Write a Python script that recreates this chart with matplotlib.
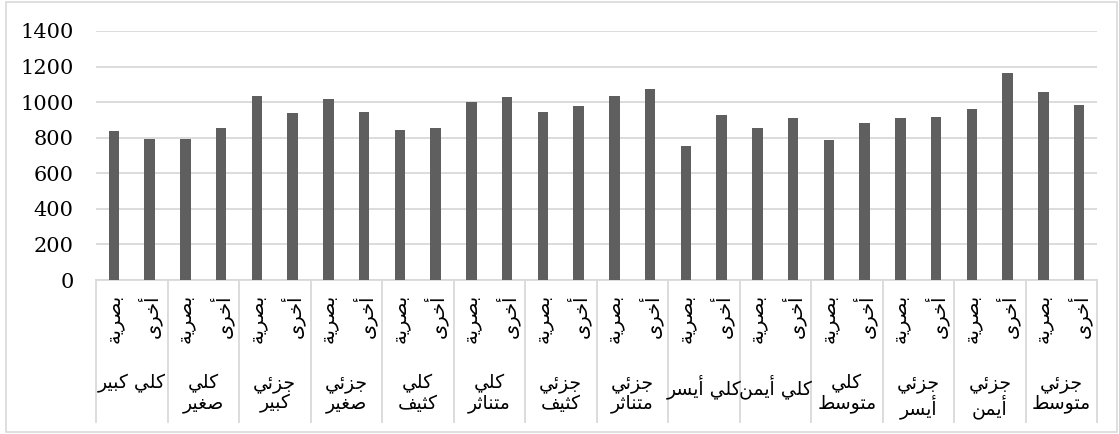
import matplotlib
matplotlib.use("Agg")
import matplotlib.pyplot as plt
from matplotlib.patches import Rectangle
import numpy as np

# ---------------- data ----------------
groups = ["كلي كبير", "كلي\nصغير", "جزئي\nكبير", "جزئي\nصغير", "كلي\nكثيف",
          "كلي\nمتناثر", "جزئي\nكثيف", "جزئي\nمتناثر", "كلي أيسر", "كلي أيمن",
          "كلي\nمتوسط", "جزئي\nأيسر", "جزئي\nأيمن", "جزئي\nمتوسط"]
subcats = ["بصرية", "أخرى"]
visual = [836, 793, 1036, 1017, 842, 998, 942, 1036, 752, 857, 789, 912, 959, 1058]
other = [795, 853, 940, 945, 853, 1028, 977, 1073, 927, 910, 880, 914, 1164, 985]
yticks = [0, 200, 400, 600, 800, 1000, 1200, 1400]

# ------------- minimal Arabic shaping (presentation forms + RTL) -------------
FORMS = {
    'ا': ('\uFE8D', '\uFE8E', None, None),
    'أ': ('\uFE83', '\uFE84', None, None),
    'ب': ('\uFE8F', '\uFE90', '\uFE91', '\uFE92'),
    'ة': ('\uFE93', '\uFE94', None, None),
    'ت': ('\uFE95', '\uFE96', '\uFE97', '\uFE98'),
    'ث': ('\uFE99', '\uFE9A', '\uFE9B', '\uFE9C'),
    'ج': ('\uFE9D', '\uFE9E', '\uFE9F', '\uFEA0'),
    'خ': ('\uFEA5', '\uFEA6', '\uFEA7', '\uFEA8'),
    'ر': ('\uFEAD', '\uFEAE', None, None),
    'ز': ('\uFEAF', '\uFEB0', None, None),
    'س': ('\uFEB1', '\uFEB2', '\uFEB3', '\uFEB4'),
    'ص': ('\uFEB9', '\uFEBA', '\uFEBB', '\uFEBC'),
    'ط': ('\uFEC1', '\uFEC2', '\uFEC3', '\uFEC4'),
    'غ': ('\uFECD', '\uFECE', '\uFECF', '\uFED0'),
    'ف': ('\uFED1', '\uFED2', '\uFED3', '\uFED4'),
    'ك': ('\uFED9', '\uFEDA', '\uFEDB', '\uFEDC'),
    'ل': ('\uFEDD', '\uFEDE', '\uFEDF', '\uFEE0'),
    'م': ('\uFEE1', '\uFEE2', '\uFEE3', '\uFEE4'),
    'ن': ('\uFEE5', '\uFEE6', '\uFEE7', '\uFEE8'),
    'و': ('\uFEED', '\uFEEE', None, None),
    'ى': ('\uFEEF', '\uFEF0', '\uFBE8', '\uFBE9'),
    'ي': ('\uFEF1', '\uFEF2', '\uFEF3', '\uFEF4'),
    'ئ': ('\uFE89', '\uFE8A', '\uFE8B', '\uFE8C'),
}


def shape_line(s):
    out = []
    n = len(s)
    for i, c in enumerate(s):
        if c not in FORMS:
            out.append(c)
            continue
        prev = s[i - 1] if i > 0 else None
        nxt = s[i + 1] if i + 1 < n else None
        jp = prev in FORMS and FORMS[prev][2] is not None
        jn = FORMS[c][2] is not None and nxt in FORMS
        iso, fin, ini, med = FORMS[c]
        if jp and jn:
            out.append(med)
        elif jp:
            out.append(fin)
        elif jn:
            out.append(ini)
        else:
            out.append(iso)
    return ''.join(reversed(out))


def ar(s):
    return '\n'.join(shape_line(line) for line in s.split('\n'))


# ---------------- figure ----------------
W, H = 1119, 434
fig = plt.figure(figsize=(W / 100, H / 100), dpi=100)
ax = fig.add_axes([96 / W, 1 - 280 / H, (1097 - 96) / W, (280 - 31) / H])

n = len(groups)
x = np.arange(2 * n)
vals = []
for v, o in zip(visual, other):
    vals += [v, o]
bar_color = '#5f5f5f'
ax.bar(x, vals, width=0.3, color=bar_color, zorder=3)

ax.set_xlim(-0.5, 2 * n - 0.5)
ax.set_ylim(0, 1400)
ax.set_yticks(yticks)
ax.set_yticklabels([str(t) for t in yticks], fontfamily='DejaVu Serif', fontsize=15)
ax.tick_params(axis='y', length=0, pad=16, colors='black')
ax.set_xticks([])
ax.grid(axis='y', color='#d9d9d9', linewidth=1.3, zorder=0)
for s in ['top', 'right', 'left']:
    ax.spines[s].set_visible(False)
ax.spines['bottom'].set_color('#d9d9d9')
ax.spines['bottom'].set_linewidth(1.3)

# category labels
tr = ax.get_xaxis_transform()
axh = 280 - 31
y_sub = -(294 - 280) / axh
y_grp = -(374 - 280) / axh
y_sep = -(422 - 280) / axh
for i, g in enumerate(groups):
    for j, sc in enumerate(subcats):
        ax.text(2 * i + j, y_sub, ar(sc), transform=tr, rotation=90,
                ha='center', va='top', fontsize=14, fontfamily='DejaVu Sans',
                rotation_mode='default')
    ax.text(2 * i + 0.5, y_grp, ar(g), transform=tr, ha='center', va='top',
            fontsize=13.5, fontfamily='DejaVu Sans', linespacing=1.05,
            multialignment='center')
for k in range(n + 1):
    xb = 2 * k - 0.5
    ax.plot([xb, xb], [0, y_sep], transform=tr, color='#d9d9d9', lw=1.3,
            clip_on=False, zorder=1)

# chart border
fig.patches.append(Rectangle((6 / W, 2 / H), (1117 - 6) / W, (432 - 2) / H,
                             transform=fig.transFigure, fill=False,
                             edgecolor='#d9d9d9', linewidth=1.2))

fig.savefig('out.png', dpi=100)
